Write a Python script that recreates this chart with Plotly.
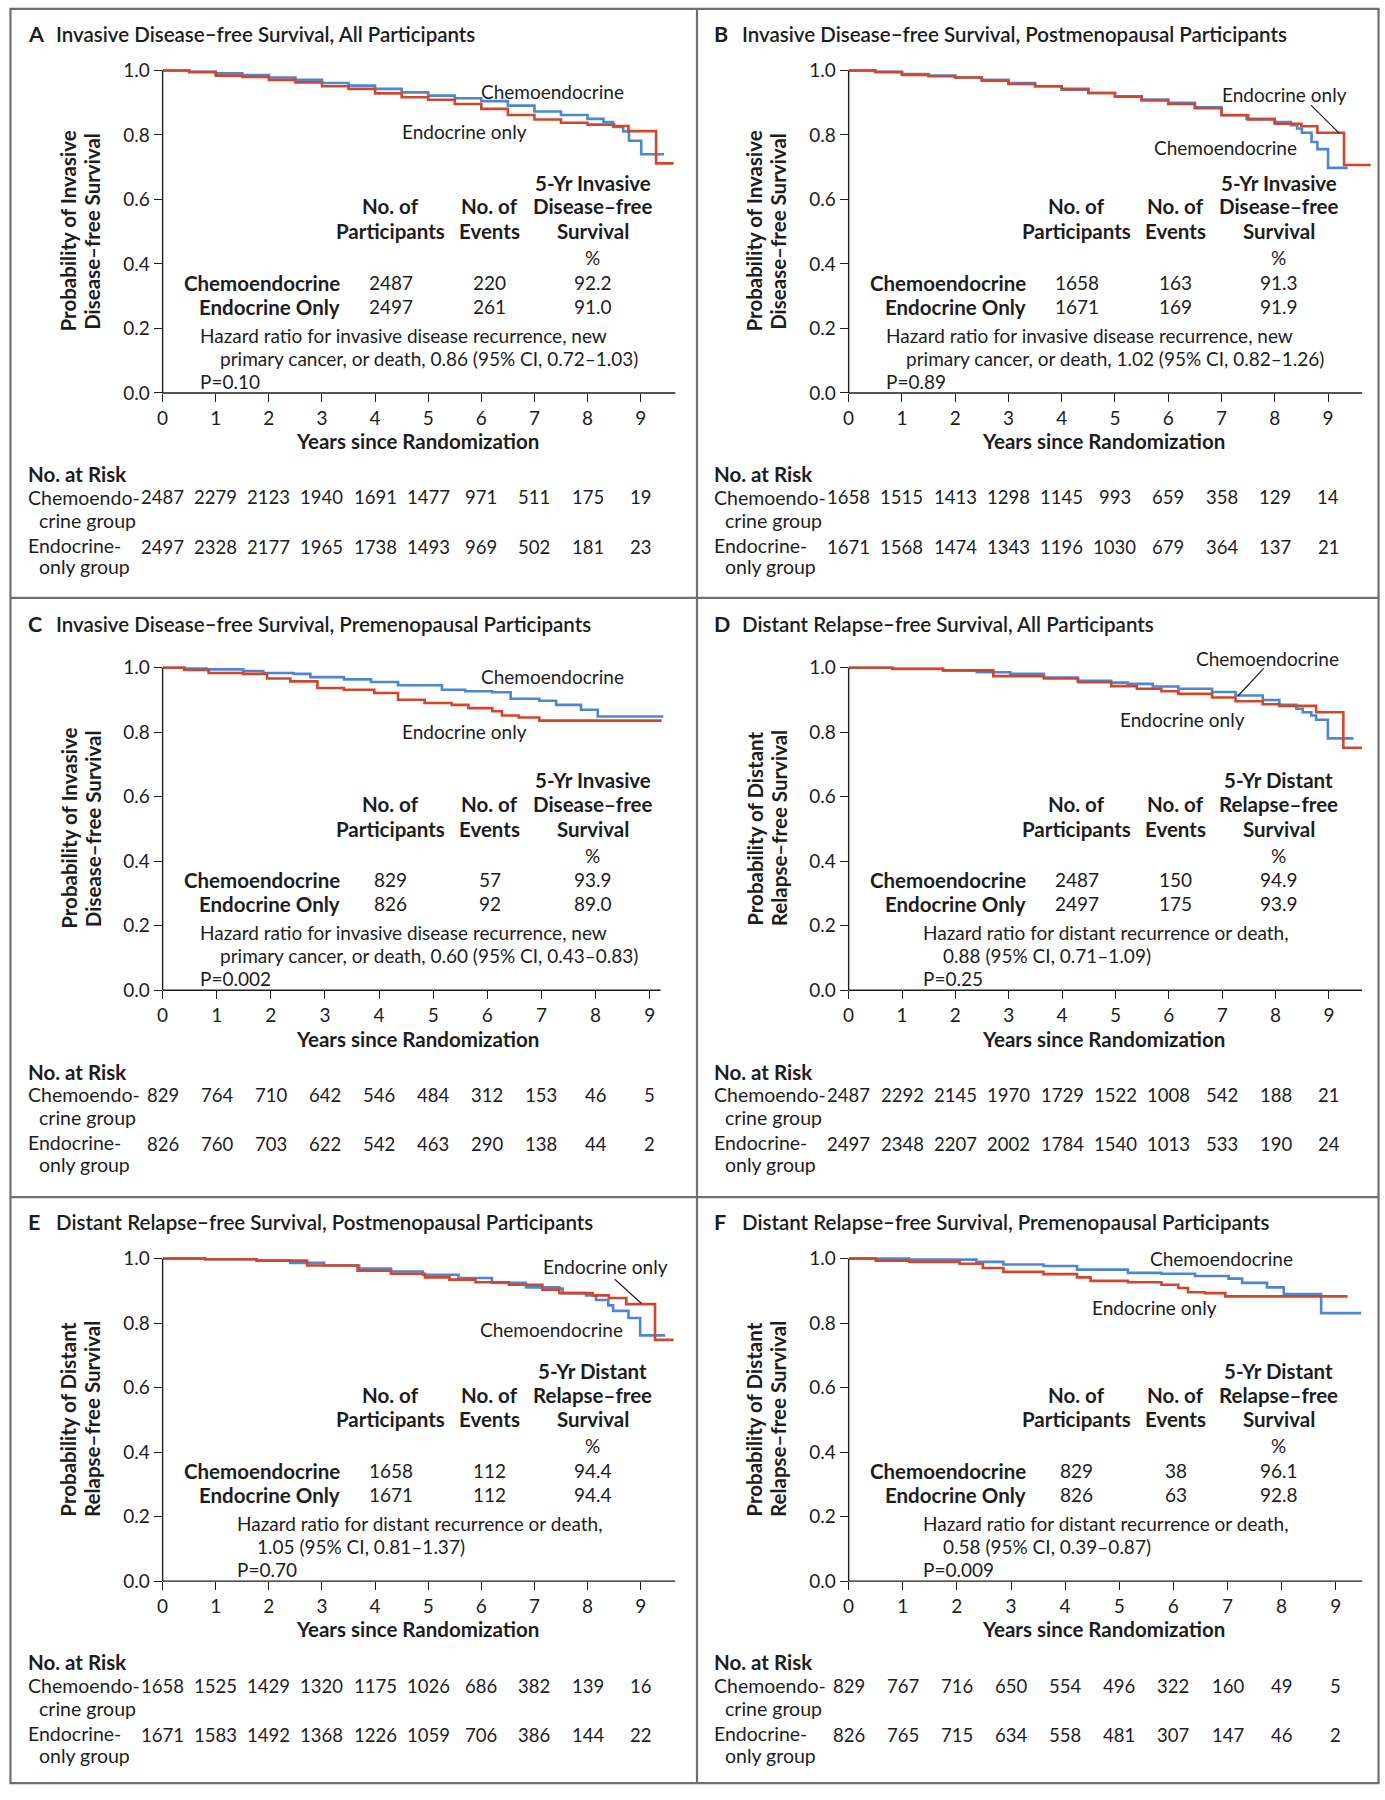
import plotly.graph_objects as go

W, H = 1385, 1800

# ---------------- data ----------------
panel_letters = ["A", "B", "C", "D", "E", "F"]
panel_titles = [
    "Invasive Disease–free Survival, All Participants",
    "Invasive Disease–free Survival, Postmenopausal Participants",
    "Invasive Disease–free Survival, Premenopausal Participants",
    "Distant Relapse–free Survival, All Participants",
    "Distant Relapse–free Survival, Postmenopausal Participants",
    "Distant Relapse–free Survival, Premenopausal Participants",
]
y_title_line1 = ["Probability of Invasive"] * 3 + ["Probability of Distant"] * 3
y_title_line2 = ["Disease–free Survival"] * 3 + ["Relapse–free Survival"] * 3
table_head3 = [["5-Yr Invasive", "Disease–free", "Survival", "%"]] * 3 + \
              [["5-Yr Distant", "Relapse–free", "Survival", "%"]] * 3

years = [0, 1, 2, 3, 4, 5, 6, 7, 8, 9]
y_ticks = [0.0, 0.2, 0.4, 0.6, 0.8, 1.0]

# Kaplan-Meier curves (time in years, survival probability)
a_chemo_t = [0, 0.5, 1.0, 1.5, 2.0, 2.5, 3.0, 3.5, 4.0, 4.5, 5.0, 5.5, 6.0, 6.5, 7.0, 7.5, 8.0, 8.3, 8.48, 8.67, 8.78, 9.01, 9.44]
a_chemo_s = [1.0, 0.996, 0.991, 0.986, 0.978, 0.971, 0.961, 0.953, 0.943, 0.932, 0.922, 0.914, 0.905, 0.891, 0.873, 0.862, 0.85, 0.84, 0.825, 0.811, 0.782, 0.74, 0.74]
a_endo_t = [0, 0.5, 1.0, 1.5, 2.0, 2.5, 3.0, 3.5, 4.0, 4.5, 5.0, 5.5, 6.0, 6.5, 7.0, 7.5, 8.0, 8.5, 8.77, 9.29, 9.62]
a_endo_s = [1.0, 0.995, 0.984, 0.98, 0.971, 0.963, 0.951, 0.943, 0.929, 0.917, 0.909, 0.896, 0.881, 0.862, 0.848, 0.838, 0.832, 0.828, 0.812, 0.712, 0.712]

b_chemo_t = [0, 0.5, 1, 1.5, 2, 2.5, 3, 3.5, 4, 4.5, 5, 5.5, 6, 6.5, 7, 7.47, 8.0, 8.3, 8.42, 8.51, 8.69, 8.8, 9.0, 9.37]
b_chemo_s = [1.0, 0.996, 0.989, 0.984, 0.978, 0.971, 0.961, 0.951, 0.94, 0.93, 0.92, 0.91, 0.9, 0.886, 0.862, 0.85, 0.84, 0.83, 0.82, 0.807, 0.778, 0.756, 0.698, 0.698]
b_endo_t = [0, 0.5, 1, 1.5, 2, 2.5, 3, 3.5, 4, 4.5, 5, 5.5, 6, 6.5, 7, 7.5, 8, 8.5, 8.8, 9.3, 9.8]
b_endo_s = [1.0, 0.995, 0.986, 0.982, 0.978, 0.968, 0.958, 0.951, 0.943, 0.93, 0.919, 0.907, 0.896, 0.883, 0.861, 0.848, 0.835, 0.827, 0.807, 0.707, 0.707]

c_chemo_t = [0, 0.4, 0.81, 1.49, 1.86, 2.42, 2.73, 3.35, 3.85, 4.35, 5.16, 5.59, 6.09, 6.43, 6.96, 7.27, 7.73, 8.04, 9.25]
c_chemo_s = [1.0, 0.998, 0.995, 0.99, 0.984, 0.981, 0.971, 0.964, 0.956, 0.946, 0.932, 0.927, 0.924, 0.904, 0.898, 0.885, 0.87, 0.849, 0.849]
c_endo_t = [0, 0.4, 0.85, 1.49, 1.93, 2.36, 2.86, 3.35, 3.91, 4.35, 4.84, 5.34, 5.65, 6.09, 6.27, 6.58, 6.96, 9.22]
c_endo_s = [1.0, 0.993, 0.984, 0.981, 0.967, 0.958, 0.9375, 0.932, 0.922, 0.901, 0.891, 0.885, 0.875, 0.865, 0.852, 0.846, 0.836, 0.836]

d_chemo_t = [0, 0.82, 1.77, 2.4, 3.03, 3.66, 4.29, 4.92, 5.23, 5.7, 6.18, 6.81, 7.25, 7.76, 8.07, 8.39, 8.51, 8.67, 8.76, 8.98, 9.46]
d_chemo_s = [1.0, 0.997, 0.992, 0.986, 0.981, 0.97, 0.96, 0.954, 0.95, 0.942, 0.935, 0.925, 0.914, 0.9, 0.885, 0.873, 0.862, 0.852, 0.839, 0.781, 0.781]
d_endo_t = [0, 0.82, 1.77, 2.71, 3.66, 4.3, 4.92, 5.4, 5.86, 6.18, 6.81, 7.25, 7.76, 8.07, 8.76, 9.27, 9.62]
d_endo_s = [1.0, 0.996, 0.992, 0.974, 0.967, 0.955, 0.943, 0.935, 0.927, 0.919, 0.908, 0.896, 0.887, 0.882, 0.862, 0.752, 0.752]

e_chemo_t = [0, 0.8, 1.77, 2.4, 3.04, 3.7, 4.3, 4.9, 5.57, 6.2, 6.84, 7.47, 7.53, 7.97, 8.16, 8.39, 8.48, 8.77, 8.99, 9.46]
e_chemo_s = [1.0, 0.998, 0.994, 0.987, 0.979, 0.969, 0.96, 0.95, 0.94, 0.925, 0.911, 0.907, 0.893, 0.886, 0.872, 0.855, 0.838, 0.816, 0.762, 0.762]
e_endo_t = [0, 0.8, 1.77, 2.72, 3.67, 4.3, 4.94, 5.4, 5.89, 6.52, 7.15, 7.47, 8.1, 8.4, 8.73, 9.27, 9.62]
e_endo_s = [1.0, 0.998, 0.994, 0.979, 0.963, 0.953, 0.942, 0.935, 0.927, 0.919, 0.904, 0.893, 0.886, 0.878, 0.859, 0.748, 0.748]

f_chemo_t = [0, 1.12, 2.36, 2.86, 3.6, 4.22, 5.16, 5.78, 6.4, 7.02, 7.27, 7.73, 8.04, 8.73, 9.47]
f_chemo_s = [1.0, 0.997, 0.99, 0.982, 0.977, 0.966, 0.956, 0.953, 0.946, 0.938, 0.925, 0.911, 0.89, 0.831, 0.831]
f_endo_t = [0, 0.5, 1.12, 2.05, 2.48, 2.86, 3.6, 4.22, 4.47, 5.16, 5.78, 6.09, 6.27, 6.58, 6.96, 9.22]
f_endo_s = [1.0, 0.994, 0.99, 0.984, 0.971, 0.959, 0.952, 0.942, 0.931, 0.927, 0.919, 0.909, 0.896, 0.893, 0.883, 0.883]

# Number at risk at years 0..9
a_risk_chemo = [2487, 2279, 2123, 1940, 1691, 1477, 971, 511, 175, 19]
a_risk_endo = [2497, 2328, 2177, 1965, 1738, 1493, 969, 502, 181, 23]
b_risk_chemo = [1658, 1515, 1413, 1298, 1145, 993, 659, 358, 129, 14]
b_risk_endo = [1671, 1568, 1474, 1343, 1196, 1030, 679, 364, 137, 21]
c_risk_chemo = [829, 764, 710, 642, 546, 484, 312, 153, 46, 5]
c_risk_endo = [826, 760, 703, 622, 542, 463, 290, 138, 44, 2]
d_risk_chemo = [2487, 2292, 2145, 1970, 1729, 1522, 1008, 542, 188, 21]
d_risk_endo = [2497, 2348, 2207, 2002, 1784, 1540, 1013, 533, 190, 24]
e_risk_chemo = [1658, 1525, 1429, 1320, 1175, 1026, 686, 382, 139, 16]
e_risk_endo = [1671, 1583, 1492, 1368, 1226, 1059, 706, 386, 144, 22]
f_risk_chemo = [829, 767, 716, 650, 554, 496, 322, 160, 49, 5]
f_risk_endo = [826, 765, 715, 634, 558, 481, 307, 147, 46, 2]

# Inset tables
participants_chemo = [2487, 1658, 829, 2487, 1658, 829]
participants_endo = [2497, 1671, 826, 2497, 1671, 826]
events_chemo = [220, 163, 57, 150, 112, 38]
events_endo = [261, 169, 92, 175, 112, 63]
surv5_chemo = ["92.2", "91.3", "93.9", "94.9", "94.4", "96.1"]
surv5_endo = ["91.0", "91.9", "89.0", "93.9", "94.4", "92.8"]
hr_line1 = ["Hazard ratio for invasive disease recurrence, new"] * 3 + \
           ["Hazard ratio for distant recurrence or death,"] * 3
hr_line2 = ["primary cancer, or death, 0.86 (95% CI, 0.72–1.03)",
            "primary cancer, or death, 1.02 (95% CI, 0.82–1.26)",
            "primary cancer, or death, 0.60 (95% CI, 0.43–0.83)",
            "0.88 (95% CI, 0.71–1.09)",
            "1.05 (95% CI, 0.81–1.37)",
            "0.58 (95% CI, 0.39–0.87)"]
p_values = ["P=0.10", "P=0.89", "P=0.002", "P=0.25", "P=0.70", "P=0.009"]

chemo_t = [a_chemo_t, b_chemo_t, c_chemo_t, d_chemo_t, e_chemo_t, f_chemo_t]
chemo_s = [a_chemo_s, b_chemo_s, c_chemo_s, d_chemo_s, e_chemo_s, f_chemo_s]
endo_t = [a_endo_t, b_endo_t, c_endo_t, d_endo_t, e_endo_t, f_endo_t]
endo_s = [a_endo_s, b_endo_s, c_endo_s, d_endo_s, e_endo_s, f_endo_s]
risk_chemo = [a_risk_chemo, b_risk_chemo, c_risk_chemo, d_risk_chemo, e_risk_chemo, f_risk_chemo]
risk_endo = [a_risk_endo, b_risk_endo, c_risk_endo, d_risk_endo, e_risk_endo, f_risk_endo]

# ---------------- layout / style ----------------
BLUE = "#4f86d2"
RED = "#d3462b"
INK = "#1d1d1d"
FRAME = "#6f6f6f"
FONT = "Lato, 'Open Sans', sans-serif"
FS = 19
FSB = 20.5

COL_DX = [0, 689]
ROW_DY = [0, 602, 1197.5]
ROW_TITLE_Y = [31.7, 626.0, 1228.8]
X0 = 157.3
Y_TOP = 68.0
Y_BOT = 393.0
PPY = [53.35, 53.5, 54.36, 53.6, 53.35, 54.36]
AXIS_END = [9.65, 9.64, 9.2, 9.62, 9.65, 9.49]
HR_X = [(193.3, 213.4)] * 3 + [(229.7, 250.0)] * 3

curve_labels = [
    [("Chemoendocrine", 549, 89.3), ("Endocrine only", 460.5, 130)],
    [("Endocrine only", 594.6, 92.7), ("Chemoendocrine", 536, 145.7)],
    [("Chemoendocrine", 549, 77), ("Endocrine only", 460.4, 132)],
    [("Chemoendocrine", 578, 58.3), ("Endocrine only", 492.5, 120.5)],
    [("Endocrine only", 601.8, 75.5), ("Chemoendocrine", 547.8, 139.5)],
    [("Chemoendocrine", 531.8, 67.8), ("Endocrine only", 464.2, 117.2)],
]
leaders = {1: (621.6, 103, 650.4, 131.7), 3: (574.2, 68.5, 548.5, 96.2), 4: (611.4, 88.8, 638.2, 113.2)}


def px(x):
    return x / W


def py(y):
    return 1 - y / H


fig = go.Figure()
annotations = []
shapes = []
layout_axes = {}


def txt(text, x, y, xanchor="center", size=FS, weight=400, xref="paper", angle=0):
    annotations.append(dict(
        text=text, x=x if xref != "paper" else px(x), y=py(y), xref=xref, yref="paper",
        xanchor=xanchor, yanchor="middle", showarrow=False, textangle=angle,
        font=dict(family=FONT, size=size, color=INK, weight=weight)))


for i in range(6):
    col, row = i % 2, i // 2
    dx, dy = COL_DX[col], ROW_DY[row]
    ppy = PPY[i]
    xmax = max(AXIS_END[i], chemo_t[i][-1], endo_t[i][-1]) + 0.06
    ymax = 1.03
    left = X0 + dx
    right = left + xmax * ppy
    bot = Y_BOT + dy
    top = bot - ymax * (Y_BOT - Y_TOP)
    k = "" if i == 0 else str(i + 1)
    layout_axes["xaxis" + k] = dict(
        domain=[px(left), px(right)], range=[0, xmax], anchor="y" + k,
        showgrid=False, zeroline=False, showline=False,
        ticks="outside", ticklen=8, tickwidth=1.3, tickcolor=INK,
        tickvals=years, ticktext=[str(v) for v in years],
        tickfont=dict(family=FONT, size=FS, color=INK), fixedrange=True)
    layout_axes["yaxis" + k] = dict(
        domain=[py(bot), py(top)], range=[0, ymax], anchor="x" + k,
        showgrid=False, zeroline=False, showline=False,
        ticks="outside", ticklen=8, tickwidth=1.3, tickcolor=INK,
        tickvals=y_ticks, ticktext=[f"{v:.1f}" for v in y_ticks],
        tickfont=dict(family=FONT, size=FS, color=INK), fixedrange=True)

    # axis lines
    shapes.append(dict(type="line", xref="paper", yref="paper",
                       x0=px(left), x1=px(left + AXIS_END[i] * ppy), y0=py(bot), y1=py(bot),
                       line=dict(color=INK, width=1.4)))
    shapes.append(dict(type="line", xref="paper", yref="paper",
                       x0=px(left), x1=px(left), y0=py(bot), y1=py(Y_TOP + dy),
                       line=dict(color=INK, width=1.4)))

    # curves
    fig.add_trace(go.Scatter(x=chemo_t[i], y=chemo_s[i], mode="lines",
                             line=dict(color=BLUE, width=2.6, shape="hv"),
                             xaxis="x" + k, yaxis="y" + k, hoverinfo="skip", showlegend=False))
    fig.add_trace(go.Scatter(x=endo_t[i], y=endo_s[i], mode="lines",
                             line=dict(color=RED, width=2.6, shape="hv"),
                             xaxis="x" + k, yaxis="y" + k, hoverinfo="skip", showlegend=False))

    # title
    ty = ROW_TITLE_Y[row]
    txt(panel_letters[i], dx + 20, ty, "left", size=21.5, weight=700)
    txt(panel_titles[i], dx + 48, ty, "left", size=FSB, weight=600)

    # y axis title (two rotated lines)
    txt(y_title_line1[i], dx + 62.5, dy + 230, size=FSB, weight=700, angle=-90)
    txt(y_title_line2[i], dx + 87, dy + 230, size=FSB, weight=700, angle=-90)

    # x axis title
    txt("Years since Randomization", dx + 413, dy + 441.7, size=FSB, weight=700)

    # curve labels
    for (lab, lx, ly) in curve_labels[i]:
        txt(lab, dx + lx, dy + ly)
    if i in leaders:
        x0, y0, x1, y1 = leaders[i]
        shapes.append(dict(type="line", xref="paper", yref="paper",
                           x0=px(dx + x0), y0=py(dy + y0), x1=px(dx + x1), y1=py(dy + y1),
                           line=dict(color=INK, width=1.2)))

    # table
    c1, c2, c3 = dx + 386.6, dx + 485.7, dx + 589.5
    txt("No. of", c1, dy + 205, size=FSB, weight=700)
    txt("Participants", c1, dy + 230, size=FSB, weight=700)
    txt("No. of", c2, dy + 205, size=FSB, weight=700)
    txt("Events", c2, dy + 230, size=FSB, weight=700)
    for j, (line, yy) in enumerate(zip(table_head3[i], [181, 205, 230, 256.7])):
        if j < 3:
            txt(line, c3, dy + yy, size=FSB, weight=700)
        else:
            txt(line, c3, dy + yy)
    txt("Chemoendocrine", dx + 337, dy + 281.7, "right", size=FSB, weight=700)
    txt("Endocrine Only", dx + 337, dy + 306, "right", size=FSB, weight=700)
    txt(str(participants_chemo[i]), c1, dy + 281.7)
    txt(str(participants_endo[i]), c1, dy + 306)
    txt(str(events_chemo[i]), c2, dy + 281.7)
    txt(str(events_endo[i]), c2, dy + 306)
    txt(surv5_chemo[i], c3, dy + 281.7)
    txt(surv5_endo[i], c3, dy + 306)
    hx1, hx2 = HR_X[i]
    txt(hr_line1[i], dx + hx1, dy + 335, "left")
    txt(hr_line2[i], dx + hx2, dy + 358.3, "left")
    txt(p_values[i], dx + hx1, dy + 381, "left")

    # number at risk
    txt("No. at Risk", dx + 20, dy + 475, "left", size=FSB, weight=700)
    txt("Chemoendo-", dx + 20, dy + 498.3, "left", size=19.5)
    txt("crine group", dx + 31, dy + 521.7, "left", size=19.5)
    txt("Endocrine-", dx + 20, dy + 546.7, "left", size=19.5)
    txt("only group", dx + 31, dy + 568.3, "left", size=19.5)
    for yr, v in zip(years, risk_chemo[i]):
        txt(str(v), yr, dy + 498.3, xref="x" + k, size=18.5)
    for yr, v in zip(years, risk_endo[i]):
        txt(str(v), yr, dy + 548.3, xref="x" + k, size=18.5)

# frame and dividers
shapes.append(dict(type="rect", xref="paper", yref="paper",
                   x0=px(4.5), x1=px(1378.5), y0=py(6), y1=py(1794),
                   line=dict(color=FRAME, width=2.2)))
shapes.append(dict(type="line", xref="paper", yref="paper",
                   x0=px(694), x1=px(694), y0=py(6), y1=py(1794),
                   line=dict(color=FRAME, width=2.2)))
for yy in (599.5, 1203.5):
    shapes.append(dict(type="line", xref="paper", yref="paper",
                       x0=px(4.5), x1=px(1378.5), y0=py(yy), y1=py(yy),
                       line=dict(color=FRAME, width=2.2)))

fig.update_layout(
    width=W, height=H, margin=dict(l=0, r=0, t=0, b=0),
    paper_bgcolor="white", plot_bgcolor="white",
    font=dict(family=FONT, size=FS, color=INK),
    annotations=annotations, shapes=shapes, showlegend=False,
    **layout_axes)

page_css = ("var s=document.createElement('style');"
            "s.textContent='html,body{margin:0!important;padding:0!important;overflow:hidden!important;}';"
            "document.head.appendChild(s);")
fig.write_html("out.html", config={"displayModeBar": False}, post_script=page_css)
